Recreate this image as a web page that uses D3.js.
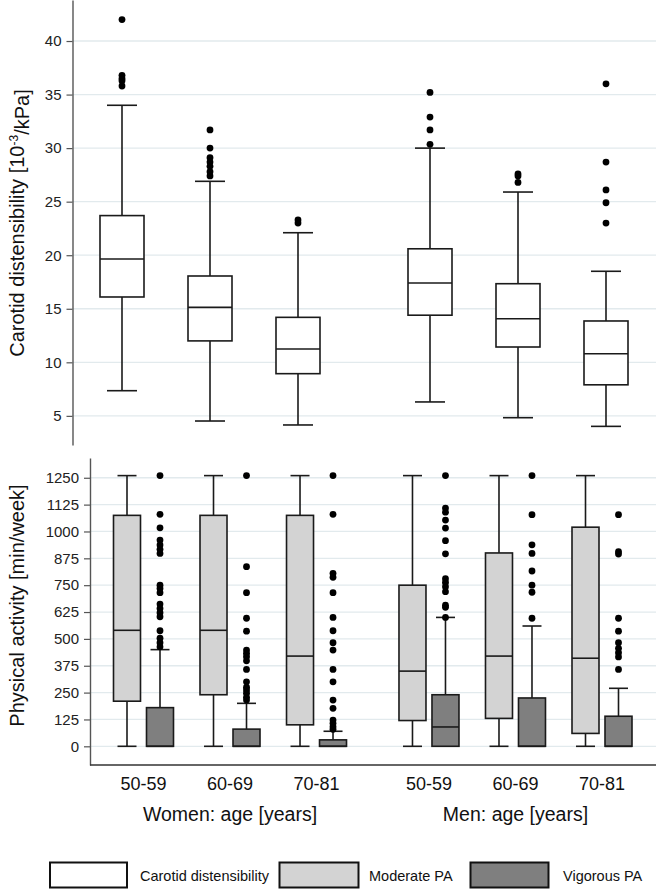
<!DOCTYPE html>
<html>
<head>
<meta charset="utf-8">
<script src="https://cdn.jsdelivr.net/npm/d3@7"></script>
<style>
html,body{margin:0;padding:0;background:#fff;}
svg{display:block;font-family:"Liberation Sans",Arial,sans-serif;}
</style>
</head>
<body>
<svg id="chart" width="657" height="889"></svg>
<script>
// ---------- data ----------
const ageGroups = ["50-59", "60-69", "70-81"];
const sexGroups = ["Women: age [years]", "Men: age [years]"];
const legendLabels = ["Carotid distensibility", "Moderate PA", "Vigorous PA"];

// Carotid distensibility [low whisker, Q1, median, Q3, high whisker], order: W50,W60,W70,M50,M60,M70
const cdStats = [
  [7.35, 16.1, 19.65, 23.7, 34.0],
  [4.52, 12.0, 15.13, 18.06, 26.9],
  [4.15, 8.94, 11.24, 14.2, 22.1],
  [6.3, 14.4, 17.4, 20.6, 30.0],
  [4.83, 11.43, 14.07, 17.34, 25.9],
  [4.02, 7.9, 10.8, 13.86, 18.5]
];
const cdOutliers = [
  [42.0, 36.8, 36.5, 36.3, 35.8],
  [31.7, 30.0, 29.1, 28.7, 28.3, 27.8, 27.4],
  [23.3, 23.0],
  [35.2, 32.9, 31.7, 30.35],
  [27.6, 27.4, 26.8],
  [36.0, 28.7, 26.1, 24.9, 23.0]
];
const cdTicks = [5, 10, 15, 20, 25, 30, 35, 40];

// Moderate PA [low, Q1, median, Q3, high]
const modStats = [
  [0, 210, 540, 1075, 1260],
  [0, 240, 540, 1075, 1260],
  [0, 100, 420, 1075, 1260],
  [0, 120, 350, 750, 1260],
  [0, 130, 420, 900, 1260],
  [0, 60, 410, 1020, 1260]
];
// Vigorous PA [low, Q1, median, Q3, high]
const vigStats = [
  [0, 0, 0, 180, 450],
  [0, 0, 0, 80, 200],
  [0, 0, 0, 30, 70],
  [0, 0, 90, 240, 600],
  [0, 0, 0, 225, 560],
  [0, 0, 0, 140, 270]
];
const vigOutliers = [
  [1260, 1080, 1017, 960, 937, 917, 898, 750, 735, 715, 662, 642, 622, 603, 538, 503, 482, 463],
  [1260, 836, 715, 596, 536, 448, 433, 417, 398, 358, 300, 275, 262, 247, 228, 215],
  [1260, 1080, 805, 787, 715, 600, 538, 482, 448, 358, 300, 215, 177, 122, 107, 91, 79],
  [1260, 1109, 1090, 1053, 1016, 957, 896, 780, 763, 743, 720, 657, 647, 600],
  [1260, 1078, 938, 898, 816, 750, 717, 596],
  [1078, 906, 895, 596, 536, 482, 456, 436, 416, 358]
];
const paTicks = [0, 125, 250, 375, 500, 625, 750, 875, 1000, 1125, 1250];

// ---------- layout ----------
const svg = d3.select("#chart");
const W = 657;
const slotTop = [0, 1, 2, 3.5, 4.5, 5.5];
const slotBot = [0, 1, 2, 3.3, 4.3, 5.3];
const gridColor = "#e2eaed";
const axisColor = "#555";
const boxStroke = "#1a1a1a";

// Top panel
const topAxisX = 72.5;
const yTop = d3.scaleLinear().domain([2.28, 43.83]).range([445, 0]);
const xTop = d3.scaleLinear().domain([0, 5.5]).range([122, 606]);

// Bottom panel
const botAxisX = 90;
const yBot = d3.scaleLinear().domain([-87, 1342]).range([765, 458]);
const xBot = d3.scaleLinear().domain([0, 5.3]).range([143.5, 602]);

function drawGrid(g, scale, ticks, x0) {
  g.selectAll("line.grid").data(ticks).join("line")
    .attr("class", "grid")
    .attr("x1", x0).attr("x2", W - 1)
    .attr("y1", d => scale(d)).attr("y2", d => scale(d))
    .attr("stroke", gridColor).attr("stroke-width", 1.3);
}

function styleAxis(g) {
  g.select(".domain").attr("stroke", axisColor).attr("stroke-width", 1.4);
  g.selectAll(".tick line").attr("stroke", axisColor).attr("stroke-width", 1.2);
  g.selectAll(".tick text").attr("fill", "#222").style("font-size", "15px")
    .style("font-family", "'Liberation Sans', Arial, sans-serif");
}

function drawBox(g, cx, stats, y, boxW, capW, fill) {
  const [lo, q1, med, q3, hi] = stats;
  const ln = (x1, y1, x2, y2) => g.append("line")
    .attr("x1", x1).attr("y1", y1).attr("x2", x2).attr("y2", y2)
    .attr("stroke", boxStroke).attr("stroke-width", 1.6);
  if (hi > q3) { ln(cx, y(hi), cx, y(q3)); ln(cx - capW / 2, y(hi), cx + capW / 2, y(hi)); }
  if (lo < q1) { ln(cx, y(q1), cx, y(lo)); ln(cx - capW / 2, y(lo), cx + capW / 2, y(lo)); }
  g.append("rect")
    .attr("x", cx - boxW / 2).attr("y", y(q3))
    .attr("width", boxW).attr("height", Math.max(0, y(q1) - y(q3)))
    .attr("fill", fill).attr("stroke", boxStroke).attr("stroke-width", 1.6);
  ln(cx - boxW / 2, y(med), cx + boxW / 2, y(med));
}

function drawOutliers(g, cx, vals, y) {
  g.selectAll(null).data(vals).join("circle")
    .attr("cx", cx).attr("cy", d => y(d)).attr("r", 3.4).attr("fill", "#000");
}

// ---- top panel ----
const gTop = svg.append("g");
drawGrid(gTop, yTop, cdTicks, topAxisX);
cdStats.forEach((st, i) => {
  const cx = xTop(slotTop[i]);
  drawBox(gTop, cx, st, yTop, 44, 30, "#fff");
  drawOutliers(gTop, cx, cdOutliers[i], yTop);
});
const axTop = svg.append("g").attr("transform", `translate(${topAxisX},0)`)
  .call(d3.axisLeft(yTop).tickValues(cdTicks).tickFormat(d3.format("d"))
    .tickSize(6).tickSizeOuter(0).tickPadding(5));
styleAxis(axTop);

const t1 = svg.append("text")
  .attr("transform", `translate(17,${(yTop(2.28) + yTop(43.83)) / 2 + 0.5}) rotate(-90)`)
  .attr("text-anchor", "middle").attr("dy", "0.36em")
  .style("font-size", "20px").attr("fill", "#111");
t1.append("tspan").text("Carotid distensibility [10");
t1.append("tspan").text("-3").attr("dy", "-0.55em").style("font-size", "12px");
t1.append("tspan").text("/kPa]").attr("dy", "0.55em");

// ---- bottom panel ----
const gBot = svg.append("g");
drawGrid(gBot, yBot, paTicks, botAxisX);
modStats.forEach((st, i) => {
  const cx = xBot(slotBot[i]) - 16.5;
  drawBox(gBot, cx, st, yBot, 27, 19, "#d3d3d3");
});
vigStats.forEach((st, i) => {
  const cx = xBot(slotBot[i]) + 16.5;
  drawBox(gBot, cx, st, yBot, 27, 19, "#7f7f7f");
  drawOutliers(gBot, cx, vigOutliers[i], yBot);
});
const axBot = svg.append("g").attr("transform", `translate(${botAxisX},0)`)
  .call(d3.axisLeft(yBot).tickValues(paTicks).tickFormat(d3.format("d"))
    .tickSize(6).tickSizeOuter(0).tickPadding(5));
styleAxis(axBot);
// x axis line
svg.append("line").attr("x1", botAxisX).attr("x2", W - 1)
  .attr("y1", yBot(-87)).attr("y2", yBot(-87))
  .attr("stroke", "#333").attr("stroke-width", 1.4);

svg.append("text")
  .attr("transform", `translate(17,${(yBot(-87) + yBot(1342)) / 2 - 6}) rotate(-90)`)
  .attr("text-anchor", "middle").attr("dy", "0.36em")
  .style("font-size", "20px").attr("fill", "#111")
  .text("Physical activity [min/week]");

// category labels
slotBot.forEach((s, i) => {
  svg.append("text").attr("x", xBot(s)).attr("y", 790)
    .attr("text-anchor", "middle").style("font-size", "18px").attr("fill", "#111")
    .text(ageGroups[i % 3]);
});
sexGroups.forEach((lab, j) => {
  svg.append("text").attr("x", xBot(slotBot[j * 3 + 1])).attr("y", 821)
    .attr("text-anchor", "middle").style("font-size", "19.5px").attr("fill", "#111")
    .text(lab);
});

// legend
const legendFills = ["#fff", "#d3d3d3", "#7f7f7f"];
const legendBoxX = [50, 279.5, 470.5];
const legendBoxW = [77, 79, 78];
const legendTextX = [140, 369, 563];
legendLabels.forEach((lab, i) => {
  svg.append("rect").attr("x", legendBoxX[i]).attr("y", 862.5)
    .attr("width", legendBoxW[i]).attr("height", 25)
    .attr("fill", legendFills[i]).attr("stroke", "#111").attr("stroke-width", 2);
  svg.append("text").attr("x", legendTextX[i]).attr("y", 875.5).attr("dy", "0.35em")
    .style("font-size", "14.5px").attr("fill", "#111").text(lab);
});
</script>
</body>
</html>
